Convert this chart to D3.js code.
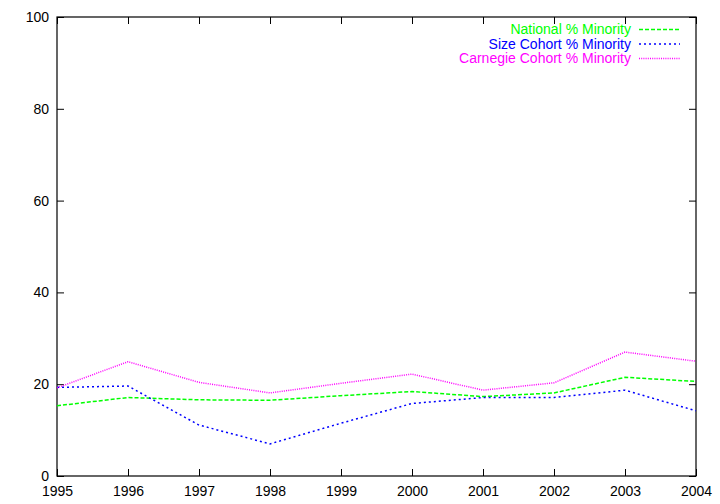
<!DOCTYPE html>
<html>
<head>
<meta charset="utf-8">
<script src="https://d3js.org/d3.v7.min.js"></script>
<style>
  html, body { margin: 0; padding: 0; background: #fff; }
  svg { display: block; }
  text { font-family: "Liberation Sans", Arial, Helvetica, sans-serif; font-size: 14px; }
</style>
</head>
<body>
<svg id="chart" width="720" height="504"></svg>
<script>
const years = [1995, 1996, 1997, 1998, 1999, 2000, 2001, 2002, 2003, 2004];
const nationalMinority = [15.3, 17.1, 16.6, 16.5, 17.5, 18.4, 17.3, 18.1, 21.5, 20.6];
const sizeCohortMinority = [19.3, 19.6, 11.1, 7.0, 11.5, 15.8, 17.1, 17.1, 18.7, 14.2];
const carnegieCohortMinority = [19.2, 24.9, 20.4, 18.1, 20.2, 22.2, 18.7, 20.3, 27.0, 25.0];
const yTicks = [0, 20, 40, 60, 80, 100];
const seriesNames = ["National % Minority", "Size Cohort % Minority", "Carnegie Cohort % Minority"];
const seriesColors = ["#00ff00", "#0000ff", "#ff00ff"];
const seriesDashes = ["4,2", "2,3", "1,1.2"];

const series = [nationalMinority, sizeCohortMinority, carnegieCohortMinority].map((vals, i) => ({
  name: seriesNames[i], color: seriesColors[i], dash: seriesDashes[i],
  values: vals.map((v, j) => ({ x: years[j], y: v }))
}));

const svg = d3.select("#chart");
const L = 57, R = 696, T = 17, B = 476;
const x = d3.scaleLinear().domain([1995, 2004]).range([L, R]);
const y = d3.scaleLinear().domain([0, 100]).range([B, T]);
const tickLen = 7;

// Frame
svg.append("rect").attr("x", L).attr("y", T).attr("width", R - L).attr("height", B - T)
  .attr("fill", "none").attr("stroke", "#000").attr("stroke-width", 1.2);

// Axes via d3 axis generators (inward ticks)
const gBottom = svg.append("g").attr("transform", `translate(0,${B})`)
  .call(d3.axisBottom(x).tickValues(years).tickFormat(d3.format("d")).tickSize(-tickLen));
const gTop = svg.append("g").attr("transform", `translate(0,${T})`)
  .call(d3.axisTop(x).tickValues(years).tickFormat("").tickSize(-tickLen));
const gLeft = svg.append("g").attr("transform", `translate(${L},0)`)
  .call(d3.axisLeft(y).tickValues(yTicks).tickSize(-tickLen).tickPadding(8));
const gRight = svg.append("g").attr("transform", `translate(${R},0)`)
  .call(d3.axisRight(y).tickValues(yTicks).tickFormat("").tickSize(-tickLen));

[gBottom, gTop, gLeft, gRight].forEach(g => {
  g.select(".domain").remove();
  g.selectAll(".tick line").attr("stroke", "#000").attr("stroke-width", 1);
  g.selectAll("text").attr("fill", "#000").style("font-size", "14px")
    .style("font-family", '"Liberation Sans", Arial, Helvetica, sans-serif');
});
gBottom.selectAll(".tick text").attr("y", 19.5).attr("dy", null);

// Lines
const line = d3.line().x(d => x(d.x)).y(d => y(d.y));
svg.append("g").selectAll("path").data(series).join("path")
  .attr("d", d => line(d.values))
  .attr("fill", "none")
  .attr("stroke", d => d.color)
  .attr("stroke-width", 1.5)
  .attr("stroke-dasharray", d => d.dash);

// Legend
const legend = svg.append("g");
series.forEach((s, i) => {
  const yy = 29.5 + i * 14.5;
  legend.append("text").attr("x", 631).attr("y", yy).attr("dy", "0.35em")
    .attr("text-anchor", "end").attr("fill", s.color).text(s.name);
  legend.append("line").attr("x1", 639).attr("x2", 680).attr("y1", yy).attr("y2", yy)
    .attr("stroke", s.color).attr("stroke-width", 1.5).attr("stroke-dasharray", s.dash);
});
</script>
</body>
</html>
